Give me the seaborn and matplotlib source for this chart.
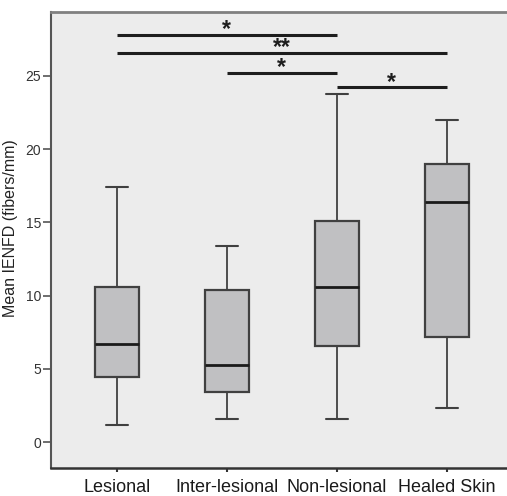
import numpy as np
import pandas as pd
import matplotlib
matplotlib.use("Agg")
import matplotlib.pyplot as plt
import seaborn as sns

categories = ["Lesional", "Inter-lesional", "Non-lesional", "Healed Skin"]
# five-number summaries: whisker low, Q1, median, Q3, whisker high
lesional = [1.16, 4.44, 6.67, 10.6, 17.43]
inter_lesional = [1.59, 3.43, 5.28, 10.4, 13.38]
non_lesional = [1.59, 6.55, 10.58, 15.1, 23.75]
healed_skin = [2.32, 7.15, 16.38, 18.95, 21.98]

# significance brackets: (from group index, to group index, height, label)
sig_from = [0, 0, 1, 2]
sig_to = [2, 3, 2, 3]
sig_y = [27.8, 26.55, 25.2, 24.2]
sig_label = ["*", "**", "*", "*"]

values = [lesional, inter_lesional, non_lesional, healed_skin]
df = pd.DataFrame({
    "group": np.repeat(categories, 5),
    "ienfd": np.concatenate(values),
})

sns.set_theme(style="white")
plt.rcParams["font.family"] = ["Liberation Sans", "DejaVu Sans"]

fig = plt.figure(figsize=(5.07, 4.96), dpi=100)
ax = fig.add_axes([51 / 507, 28 / 496, 1 - 51 / 507, (468 - 12) / 496])
ax.set_facecolor("#ececec")

sns.boxplot(
    data=df, x="group", y="ienfd", order=categories, ax=ax,
    width=0.4, whis=np.inf, color="#c0c0c2", saturation=1,
    linecolor="#404040", linewidth=1.3,
    medianprops=dict(color="#1a1a1a", linewidth=2.0),
    boxprops=dict(linewidth=1.6),
    capprops=dict(linewidth=1.5, color="#404040"),
    whiskerprops=dict(linewidth=1.3, color="#404040"),
    showfliers=False,
)

for a, b, y, lab in zip(sig_from, sig_to, sig_y, sig_label):
    ax.plot([a, b], [y, y], color="#1e1e1e", linewidth=2.2, solid_capstyle="butt")
    ax.text((a + b) / 2, y - 0.1, lab, ha="center", va="baseline",
            fontsize=16.5, fontweight="bold", color="#1e1e1e")

ax.set_xlim(-0.6, 3.55)
ax.set_ylim(-1.77, 29.35)
ax.set_yticks([0, 5, 10, 15, 20, 25])
ax.set_xlabel("")
ax.set_ylabel("Mean IENFD (fibers/mm)", fontsize=11.5, color="#222222")
ax.yaxis.set_label_coords(-0.072, 0.525)

for side in ["top", "left", "bottom"]:
    ax.spines[side].set_visible(True)
ax.spines["right"].set_visible(False)
ax.spines["top"].set_color("#808080")
ax.spines["top"].set_linewidth(2)
ax.spines["left"].set_color("#555555")
ax.spines["left"].set_linewidth(1.5)
ax.spines["bottom"].set_color("#333333")
ax.spines["bottom"].set_linewidth(1.8)

ax.tick_params(axis="y", left=True, length=6, width=1.2, color="#555555",
               labelsize=10, labelcolor="#333333", pad=1)
ax.tick_params(axis="x", bottom=True, length=3, width=1.5, color="#333333",
               labelsize=13, labelcolor="#1a1a1a", pad=5)

fig.savefig("out.png", dpi=100)
